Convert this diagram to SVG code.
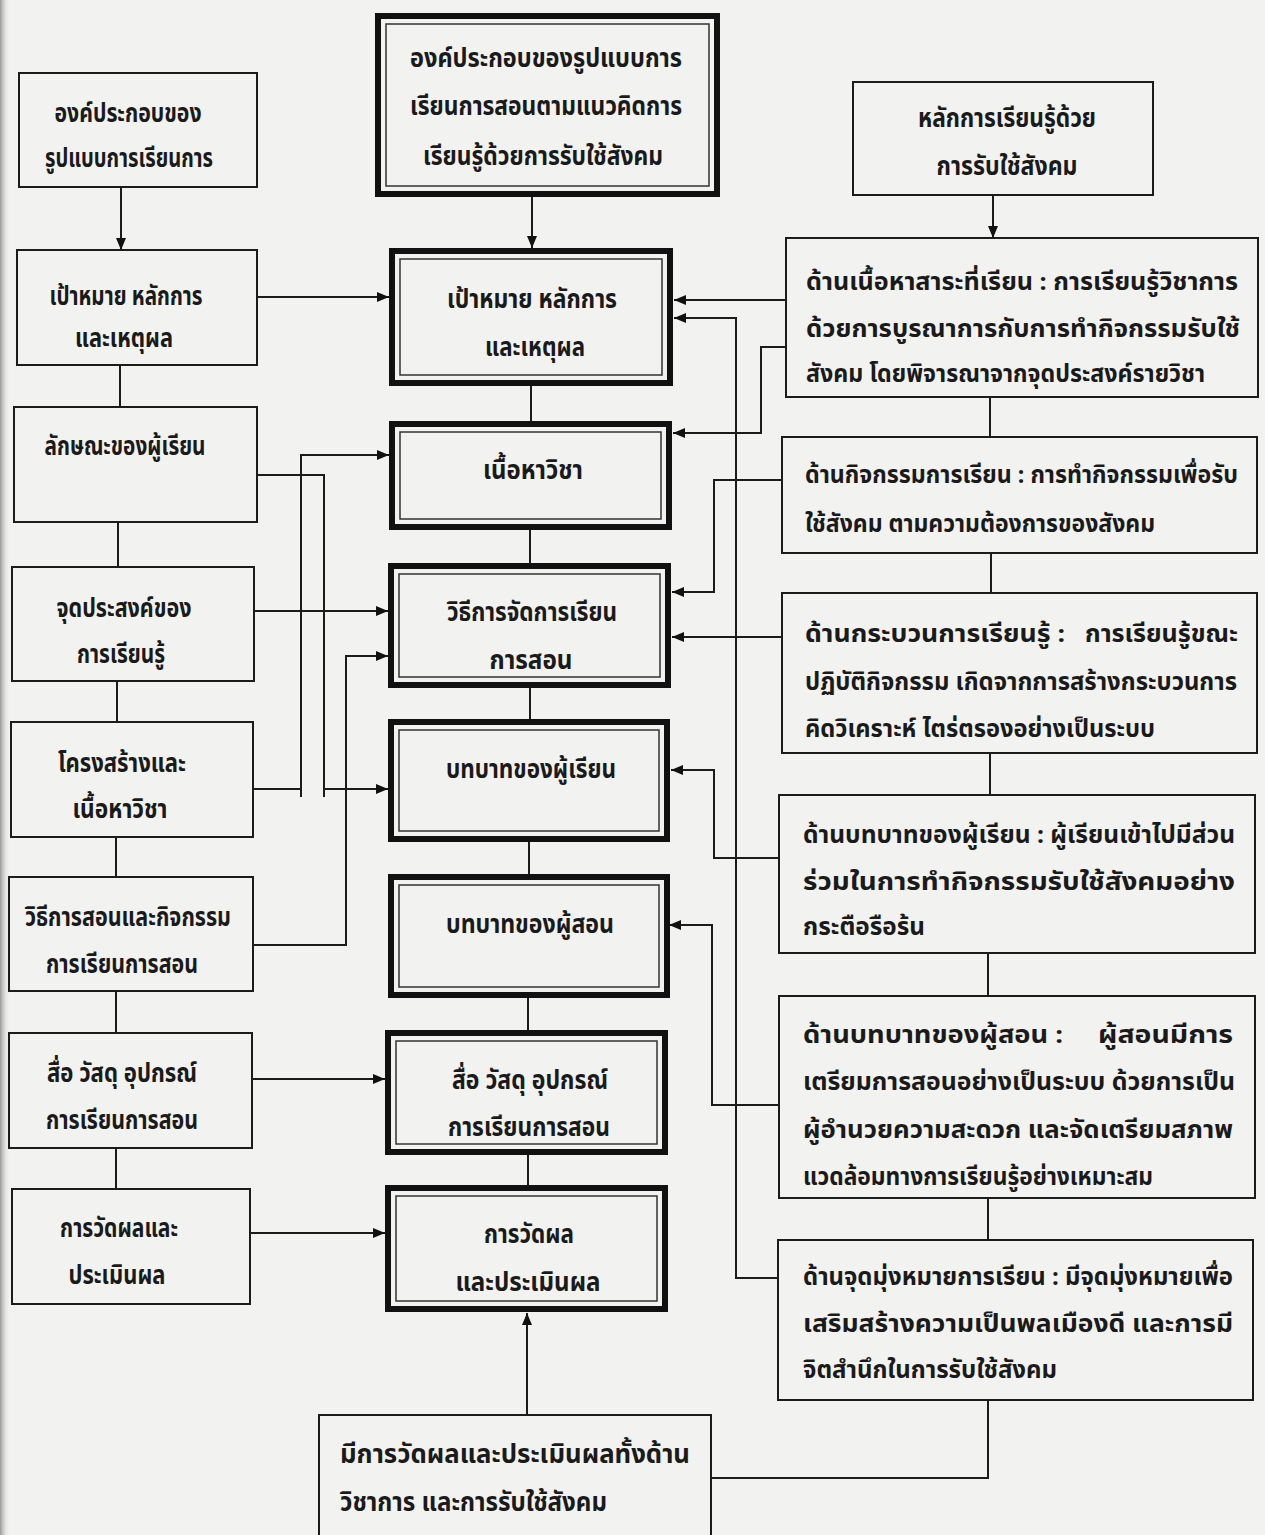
<svg xmlns="http://www.w3.org/2000/svg" width="1265" height="1535" viewBox="0 0 1265 1535">
<style>
.bg{fill:#f2f2f1}
.thin{fill:none;stroke:#1c1c1c;stroke-width:2}
.thick{fill:none;stroke:#111;stroke-width:6}
.inner{fill:none;stroke:#333;stroke-width:1.5}
.t{font-family:"Noto Sans Thai","Noto Sans Thai UI","Loma","Garuda","Norasi","DejaVu Sans",sans-serif;font-size:26px;font-weight:bold;fill:#1a1a1a}
.r{font-size:24px}
.m{text-anchor:middle}
.c{fill:none;stroke:#1c1c1c;stroke-width:2}
</style>
<defs>
<marker id="ah" markerUnits="userSpaceOnUse" markerWidth="13" markerHeight="10" refX="12" refY="5" orient="auto">
<path d="M0,0 L12,5 L0,10 Z" fill="#111"/>
</marker>
<linearGradient id="edge" x1="0" x2="1" y1="0" y2="0">
<stop offset="0" stop-color="#9a9a9a"/>
<stop offset="1" stop-color="#f2f2f1" stop-opacity="0"/>
</linearGradient>
</defs>
<rect class="bg" x="0" y="0" width="1265" height="1535"/>
<rect x="0" y="0" width="10" height="1535" fill="url(#edge)"/>

<g id="connectors">
<path class="c" d="M121,187 V250" marker-end="url(#ah)"/>
<path class="c" d="M120,365 V407"/>
<path class="c" d="M118,522 V567"/>
<path class="c" d="M117,681 V722"/>
<path class="c" d="M116,837 V877"/>
<path class="c" d="M116,991 V1033"/>
<path class="c" d="M116,1148 V1189"/>
<path class="c" d="M257,297 H389" marker-end="url(#ah)"/>
<path class="c" d="M257,475 H324 V797 M324,789 H388" marker-end="url(#ah)"/>
<path class="c" d="M253,789 H301 M301,797 V455 H389" marker-end="url(#ah)"/>
<path class="c" d="M254,611 H388" marker-end="url(#ah)"/>
<path class="c" d="M253,945 H346 V656 H388" marker-end="url(#ah)"/>
<path class="c" d="M252,1079 H385" marker-end="url(#ah)"/>
<path class="c" d="M250,1233 H385" marker-end="url(#ah)"/>
<path class="c" d="M532,197 V248" marker-end="url(#ah)"/>
<path class="c" d="M531,386 V421"/>
<path class="c" d="M530,530 V563"/>
<path class="c" d="M530,688 V719"/>
<path class="c" d="M529,842 V874"/>
<path class="c" d="M528,998 V1030"/>
<path class="c" d="M528,1155 V1185"/>
<path class="c" d="M527,1415 V1313" marker-end="url(#ah)"/>
<path class="c" d="M993,195 V238" marker-end="url(#ah)"/>
<path class="c" d="M990,397 V437"/>
<path class="c" d="M991,553 V593"/>
<path class="c" d="M990,753 V795"/>
<path class="c" d="M988,953 V996"/>
<path class="c" d="M988,1198 V1240"/>
<path class="c" d="M988,1400 V1478 H711"/>
<path class="c" d="M786,300 H674" marker-end="url(#ah)"/>
<path class="c" d="M786,347 H761 V433 H673" marker-end="url(#ah)"/>
<path class="c" d="M782,480 H714 V592 H672" marker-end="url(#ah)"/>
<path class="c" d="M782,637 H672" marker-end="url(#ah)"/>
<path class="c" d="M779,858 H714 V770 H671" marker-end="url(#ah)"/>
<path class="c" d="M779,1105 H712 V925 H669" marker-end="url(#ah)"/>
<path class="c" d="M778,1278 H736 V318 H674" marker-end="url(#ah)"/>
</g>

<!-- left column -->
<g id="L1"><rect class="thin" x="19" y="73" width="238" height="114"/>
<text class="t m" x="128" y="122" textLength="147" lengthAdjust="spacingAndGlyphs">องค์ประกอบของ</text>
<text class="t m" x="129" y="167" textLength="168" lengthAdjust="spacingAndGlyphs">รูปแบบการเรียนการ</text></g>
<g id="L2"><rect class="thin" x="17" y="250" width="240" height="115"/>
<text class="t m" x="126" y="305" textLength="153" lengthAdjust="spacingAndGlyphs">เป้าหมาย หลักการ</text>
<text class="t m" x="124" y="347" textLength="98" lengthAdjust="spacingAndGlyphs">และเหตุผล</text></g>
<g id="L3"><rect class="thin" x="14" y="407" width="243" height="115"/>
<text class="t m" x="125" y="455" textLength="161" lengthAdjust="spacingAndGlyphs">ลักษณะของผู้เรียน</text></g>
<g id="L4"><rect class="thin" x="12" y="567" width="242" height="114"/>
<text class="t m" x="124" y="617" textLength="135" lengthAdjust="spacingAndGlyphs">จุดประสงค์ของ</text>
<text class="t m" x="121" y="663" textLength="88" lengthAdjust="spacingAndGlyphs">การเรียนรู้</text></g>
<g id="L5"><rect class="thin" x="11" y="722" width="242" height="115"/>
<text class="t m" x="122" y="772" textLength="128" lengthAdjust="spacingAndGlyphs">โครงสร้างและ</text>
<text class="t m" x="120" y="818" textLength="95" lengthAdjust="spacingAndGlyphs">เนื้อหาวิชา</text></g>
<g id="L6"><rect class="thin" x="9" y="877" width="244" height="114"/>
<text class="t m" x="128" y="926" textLength="206" lengthAdjust="spacingAndGlyphs">วิธีการสอนและกิจกรรม</text>
<text class="t m" x="122" y="973" textLength="152" lengthAdjust="spacingAndGlyphs">การเรียนการสอน</text></g>
<g id="L7"><rect class="thin" x="9" y="1033" width="243" height="115"/>
<text class="t m" x="122" y="1082" textLength="150" lengthAdjust="spacingAndGlyphs">สื่อ วัสดุ อุปกรณ์</text>
<text class="t m" x="122" y="1129" textLength="152" lengthAdjust="spacingAndGlyphs">การเรียนการสอน</text></g>
<g id="L8"><rect class="thin" x="12" y="1189" width="238" height="115"/>
<text class="t m" x="119" y="1237" textLength="118" lengthAdjust="spacingAndGlyphs">การวัดผลและ</text>
<text class="t m" x="117" y="1284" textLength="97" lengthAdjust="spacingAndGlyphs">ประเมินผล</text></g>

<!-- center column -->
<g id="C0"><rect class="thick" x="378" y="16" width="339" height="178"/><rect class="inner" x="386" y="24" width="323" height="162"/>
<text class="t m" x="546" y="67" textLength="272" lengthAdjust="spacingAndGlyphs">องค์ประกอบของรูปแบบการ</text>
<text class="t m" x="546" y="115" textLength="272" lengthAdjust="spacingAndGlyphs">เรียนการสอนตามแนวคิดการ</text>
<text class="t m" x="543" y="165" textLength="240" lengthAdjust="spacingAndGlyphs">เรียนรู้ด้วยการรับใช้สังคม</text></g>
<g id="C1"><rect class="thick" x="392" y="251" width="278" height="132"/><rect class="inner" x="400" y="259" width="262" height="116"/>
<text class="t m" x="532" y="308" textLength="170" lengthAdjust="spacingAndGlyphs">เป้าหมาย หลักการ</text>
<text class="t m" x="535" y="356" textLength="100" lengthAdjust="spacingAndGlyphs">และเหตุผล</text></g>
<g id="C2"><rect class="thick" x="392" y="424" width="277" height="103"/><rect class="inner" x="400" y="432" width="261" height="87"/>
<text class="t m" x="533" y="479" textLength="100" lengthAdjust="spacingAndGlyphs">เนื้อหาวิชา</text></g>
<g id="C3"><rect class="thick" x="391" y="566" width="277" height="119"/><rect class="inner" x="399" y="574" width="261" height="103"/>
<text class="t m" x="532" y="621" textLength="170" lengthAdjust="spacingAndGlyphs">วิธีการจัดการเรียน</text>
<text class="t m" x="531" y="669" textLength="83" lengthAdjust="spacingAndGlyphs">การสอน</text></g>
<g id="C4"><rect class="thick" x="391" y="722" width="276" height="117"/><rect class="inner" x="399" y="730" width="260" height="101"/>
<text class="t m" x="531" y="778" textLength="170" lengthAdjust="spacingAndGlyphs">บทบาทของผู้เรียน</text></g>
<g id="C5"><rect class="thick" x="391" y="877" width="276" height="118"/><rect class="inner" x="399" y="885" width="260" height="102"/>
<text class="t m" x="530" y="933" textLength="168" lengthAdjust="spacingAndGlyphs">บทบาทของผู้สอน</text></g>
<g id="C6"><rect class="thick" x="388" y="1033" width="277" height="119"/><rect class="inner" x="396" y="1041" width="261" height="103"/>
<text class="t m" x="530" y="1089" textLength="156" lengthAdjust="spacingAndGlyphs">สื่อ วัสดุ อุปกรณ์</text>
<text class="t m" x="529" y="1136" textLength="162" lengthAdjust="spacingAndGlyphs">การเรียนการสอน</text></g>
<g id="C7"><rect class="thick" x="388" y="1188" width="277" height="121"/><rect class="inner" x="396" y="1196" width="261" height="105"/>
<text class="t m" x="529" y="1243" textLength="90" lengthAdjust="spacingAndGlyphs">การวัดผล</text>
<text class="t m" x="528" y="1291" textLength="145" lengthAdjust="spacingAndGlyphs">และประเมินผล</text></g>
<g id="B"><rect class="thin" x="319" y="1415" width="392" height="130"/>
<text class="t" x="340" y="1463" textLength="350" lengthAdjust="spacingAndGlyphs">มีการวัดผลและประเมินผลทั้งด้าน</text>
<text class="t" x="340" y="1511" textLength="267" lengthAdjust="spacingAndGlyphs">วิชาการ และการรับใช้สังคม</text></g>

<!-- right column -->
<g id="R0"><rect class="thin" x="853" y="82" width="300" height="113"/>
<text class="t m" x="1007" y="127" textLength="178" lengthAdjust="spacingAndGlyphs">หลักการเรียนรู้ด้วย</text>
<text class="t m" x="1007" y="175" textLength="141" lengthAdjust="spacingAndGlyphs">การรับใช้สังคม</text></g>
<g id="R1"><rect class="thin" x="786" y="238" width="472" height="159"/>
<text class="t r" x="806" y="290" textLength="432" lengthAdjust="spacingAndGlyphs">ด้านเนื้อหาสาระที่เรียน : การเรียนรู้วิชาการ</text>
<text class="t r" x="806" y="337" textLength="434" lengthAdjust="spacingAndGlyphs">ด้วยการบูรณาการกับการทำกิจกรรมรับใช้</text>
<text class="t r" x="806" y="382" textLength="399" lengthAdjust="spacingAndGlyphs">สังคม โดยพิจารณาจากจุดประสงค์รายวิชา</text></g>
<g id="R2"><rect class="thin" x="782" y="437" width="475" height="116"/>
<text class="t r" x="805" y="483" textLength="433" lengthAdjust="spacingAndGlyphs">ด้านกิจกรรมการเรียน : การทำกิจกรรมเพื่อรับ</text>
<text class="t r" x="805" y="532" textLength="350" lengthAdjust="spacingAndGlyphs">ใช้สังคม ตามความต้องการของสังคม</text></g>
<g id="R3"><rect class="thin" x="782" y="593" width="475" height="160"/>
<text class="t r" x="805" y="642" textLength="260" lengthAdjust="spacingAndGlyphs">ด้านกระบวนการเรียนรู้ :</text>
<text class="t r" x="1085" y="642" textLength="153" lengthAdjust="spacingAndGlyphs">การเรียนรู้ขณะ</text>
<text class="t r" x="805" y="690" textLength="432" lengthAdjust="spacingAndGlyphs">ปฏิบัติกิจกรรม เกิดจากการสร้างกระบวนการ</text>
<text class="t r" x="805" y="737" textLength="350" lengthAdjust="spacingAndGlyphs">คิดวิเคราะห์ ไตร่ตรองอย่างเป็นระบบ</text></g>
<g id="R4"><rect class="thin" x="779" y="795" width="476" height="158"/>
<text class="t r" x="803" y="843" textLength="432" lengthAdjust="spacingAndGlyphs">ด้านบทบาทของผู้เรียน : ผู้เรียนเข้าไปมีส่วน</text>
<text class="t r" x="803" y="890" textLength="432" lengthAdjust="spacingAndGlyphs">ร่วมในการทำกิจกรรมรับใช้สังคมอย่าง</text>
<text class="t r" x="803" y="935" textLength="122" lengthAdjust="spacingAndGlyphs">กระตือรือร้น</text></g>
<g id="R5"><rect class="thin" x="779" y="996" width="476" height="202"/>
<text class="t r" x="803" y="1043" textLength="260" lengthAdjust="spacingAndGlyphs">ด้านบทบาทของผู้สอน :</text>
<text class="t r" x="1098" y="1043" textLength="135" lengthAdjust="spacingAndGlyphs">ผู้สอนมีการ</text>
<text class="t r" x="803" y="1090" textLength="432" lengthAdjust="spacingAndGlyphs">เตรียมการสอนอย่างเป็นระบบ ด้วยการเป็น</text>
<text class="t r" x="803" y="1138" textLength="430" lengthAdjust="spacingAndGlyphs">ผู้อำนวยความสะดวก และจัดเตรียมสภาพ</text>
<text class="t r" x="803" y="1185" textLength="350" lengthAdjust="spacingAndGlyphs">แวดล้อมทางการเรียนรู้อย่างเหมาะสม</text></g>
<g id="R6"><rect class="thin" x="778" y="1240" width="475" height="160"/>
<text class="t r" x="803" y="1285" textLength="430" lengthAdjust="spacingAndGlyphs">ด้านจุดมุ่งหมายการเรียน : มีจุดมุ่งหมายเพื่อ</text>
<text class="t r" x="803" y="1332" textLength="430" lengthAdjust="spacingAndGlyphs">เสริมสร้างความเป็นพลเมืองดี และการมี</text>
<text class="t r" x="803" y="1378" textLength="254" lengthAdjust="spacingAndGlyphs">จิตสำนึกในการรับใช้สังคม</text></g>
</svg>
